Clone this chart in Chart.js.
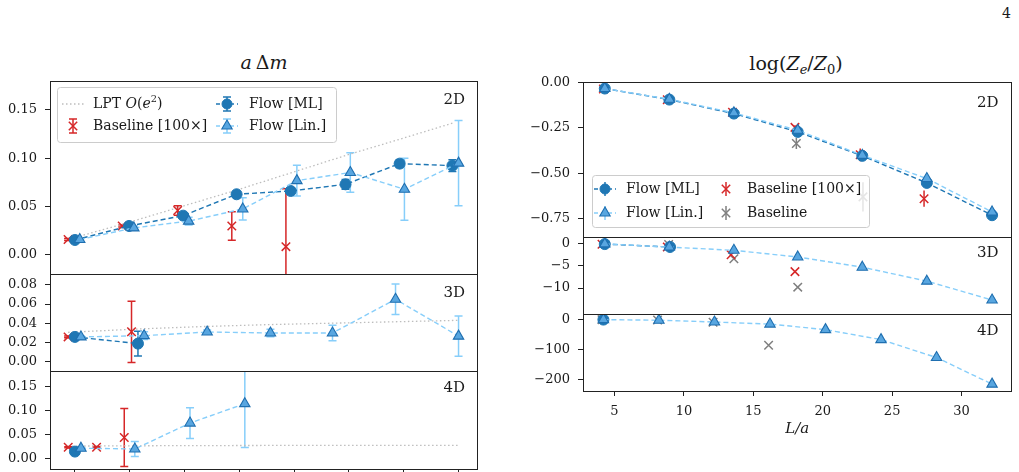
<!DOCTYPE html>
<html>
<head>
<meta charset="utf-8">
<script src="https://cdn.jsdelivr.net/npm/chart.js@4.4.0/dist/chart.umd.min.js"></script>
<style>
  body { margin: 0; width: 1019px; height: 472px; overflow: hidden; position: relative; background: #fff;
         font-family: "DejaVu Serif", serif; color: #1a1a1a; }
  canvas { position: absolute; }
  .title { position: absolute; font-size: 19px; transform: translate(-50%, -50%); white-space: nowrap; }
  .title sub { font-size: 13px; vertical-align: -4px; line-height: 0; }
</style>
</head>
<body>
<div class="title" style="left:264px; top:62px"><i>a</i>&thinsp;Δ<i>m</i></div>
<div class="title" style="left:796px; top:63px">log(<i>Z</i><sub><i>e</i></sub>/<i>Z</i><sub>0</sub>)</div>
<div style="position:absolute; left:1002px; top:5px; font-size:14px">4</div>
<canvas id="l2d"></canvas>
<canvas id="l3d"></canvas>
<canvas id="l4d"></canvas>
<canvas id="r2d"></canvas>
<canvas id="r3d"></canvas>
<canvas id="r4d"></canvas>
<script>
const lptL2dX = [3.5, 8, 12, 16, 20, 24, 28, 31.7];
const lptL2dY = [0.016, 0.034, 0.051, 0.068, 0.086, 0.104, 0.121, 0.137];
const baseL2dX = [3.5, 7.45, 11.5, 15.45, 19.4];
const baseL2dY = [0.016, 0.030, 0.046, 0.030, 0.0086];
const baseL2dErr = [0.001, 0.001, 0.005, 0.0147, 0.06];
const mlL2dX = [4.0, 7.95, 11.9, 15.8, 19.75, 23.75, 27.7, 31.55];
const mlL2dY = [0.0155, 0.030, 0.0407, 0.0628, 0.0662, 0.0731, 0.0945, 0.0924];
const mlL2dErr = [0.001, 0.001, 0.002, 0.003, 0.003, 0.005, 0.004, 0.006];
const linL2dX = [4.35, 8.3, 12.3, 16.25, 20.2, 24.1, 28.05, 32.0];
const linL2dY = [0.016, 0.028, 0.035, 0.0476, 0.0769, 0.0853, 0.068, 0.095];
const linL2dErr = [0.001, 0.002, 0.004, 0.0115, 0.016, 0.0205, 0.032, 0.044];

const lptL3dX = [3.5, 8.67, 13.3, 18, 22.7, 27.3, 32];
const lptL3dY = [0.0305, 0.034, 0.0365, 0.0385, 0.040, 0.0415, 0.043];
const baseL3dX = [3.5, 8.13];
const baseL3dY = [0.0257, 0.031];
const baseL3dErr = [0.001, 0.032];
const mlL3dX = [4.0, 8.6];
const mlL3dY = [0.0257, 0.0187];
const mlL3dErr = [0.001, 0.013];
const linL3dX = [4.44, 9.05, 13.65, 18.27, 22.8, 27.4, 32.0];
const linL3dY = [0.0257, 0.027, 0.0308, 0.0298, 0.0298, 0.065, 0.0265];
const linL3dErr = [0.001, 0.004, 0.002, 0.004, 0.008, 0.016, 0.021];

const lptL4dX = [3.5, 12, 22, 32];
const lptL4dY = [0.026, 0.027, 0.0275, 0.0275];
const baseL4dX = [3.51, 5.58, 7.6];
const baseL4dY = [0.0237, 0.0237, 0.0438];
const baseL4dErr = [0.001, 0.001, 0.06];
const mlL4dX = [4.0];
const mlL4dY = [0.0146];
const mlL4dErr = [0.002];
const linL4dX = [4.44, 8.37, 12.4, 16.4];
const linL4dY = [0.0216, 0.020, 0.0737, 0.114];
const linL4dErr = [0.002, 0.0156, 0.032, 0.091];

const leftXTicks = [4, 8, 12, 16, 20, 24, 28, 32];
const leftY2dTicks = [0, 0.05, 0.10, 0.15];
const leftY3dTicks = [0, 0.02, 0.04, 0.06, 0.08];
const leftY4dTicks = [0, 0.05, 0.10, 0.15];

// ---- right column: log(Z_e/Z_0) vs L/a ----
const xR7 = [4.3, 8.95, 13.6, 18.2, 22.85, 27.5, 32.2];
const xR8 = [4.2, 8.2, 12.2, 16.2, 20.2, 24.2, 28.2, 32.2];
const mlR2dY = [-0.033, -0.094, -0.171, -0.272, -0.404, -0.553, -0.731];
const linR2dY = [-0.033, -0.092, -0.167, -0.263, -0.401, -0.529, -0.713];
const bigR2dX = [4.2, 8.8, 13.5, 18.0, 22.7, 27.3];
const bigR2dY = [-0.036, -0.095, -0.164, -0.247, -0.398, -0.64];
const bigR2dErr = [0.005, 0.005, 0.008, 0.012, 0.035, 0.045];
const baseR2dX = [18.1, 22.9];
const baseR2dY = [-0.336, -0.63];
const baseR2dErr = [0.03, 0.08];

const mlR3dX = [4.3, 9.0];
const mlR3dY = [-0.1, -0.75];
const linR3dY = [-0.05, -0.77, -1.5, -3.0, -5.3, -8.45, -12.7];
const bigR3dX = [4.1, 8.8, 13.4, 18.0];
const bigR3dY = [-0.15, -0.75, -2.5, -6.3];
const baseR3dX = [8.9, 13.6, 18.2];
const baseR3dY = [-0.2, -3.4, -9.8];

const mlR4dX = [4.2];
const mlR4dY = [0];
const linR4dY = [0, -2, -8, -15, -33.5, -67, -127, -216];
const baseR4dX = [4.1, 8.1, 12.1, 16.1];
const baseR4dY = [0, -1, -9, -86];

const rightXTicks = [5, 10, 15, 20, 25, 30];
const rightY2dTicks = [0, -0.25, -0.5, -0.75];
const rightY3dTicks = [0, -5, -10];
const rightY4dTicks = [0, -100, -200];

// ---- styling ----
const FONT = '"DejaVu Serif", serif';
const INK = '#1a1a1a';
const C_ML = '#1f77b4';
const C_LIN = '#87cefa';
const C_LIN_FILL = '#58a6e0';
const C_RED = '#d62728';
const C_GRAY = '#7f7f7f';
const C_LPT = '#bdbdbd';

function pts(xs, ys) {
    return xs.map((x, i) => ({ x: x, y: ys[i] }));
}

function lptSeries(xs, ys) {
    return { data: pts(xs, ys), showLine: true, borderColor: C_LPT, borderWidth: 1.3,
             borderDash: [1.5, 2.5], pointRadius: 0, order: 4 };
}

function mlSeries(xs, ys, err, caps) {
    return { data: pts(xs, ys), showLine: true, borderColor: C_ML, borderWidth: 1.4, borderDash: [5, 3],
             pointStyle: 'circle', pointRadius: 5.5, pointBackgroundColor: C_ML, pointBorderColor: C_ML,
             pointBorderWidth: 1, err: err, errColor: C_ML, caps: caps, order: 1 };
}

function linSeries(xs, ys, err, caps) {
    return { data: pts(xs, ys), showLine: true, borderColor: C_LIN, borderWidth: 1.4, borderDash: [5, 3],
             pointStyle: 'triangle', pointRadius: 6, pointBackgroundColor: C_LIN_FILL, pointBorderColor: '#1f6fb0',
             pointBorderWidth: 1.1, err: err, errColor: C_LIN, caps: caps, order: 0 };
}

function crossSeries(xs, ys, err, caps, color, order) {
    return { data: pts(xs, ys), showLine: false, pointStyle: 'crossRot', pointRadius: 6,
             pointBorderColor: color, pointBackgroundColor: color, pointBorderWidth: 1.5,
             err: err, errColor: color, caps: caps, order: order };
}

// error bars drawn under the markers, clipped to the axes box
const errorBars = {
    id: 'errorBars',
    beforeDatasetsDraw(chart) {
        const { ctx, chartArea: a, scales: { x, y } } = chart;
        ctx.save();
        ctx.beginPath();
        ctx.rect(a.left, a.top, a.width, a.height);
        ctx.clip();
        ctx.lineWidth = 1.5;
        chart.data.datasets.forEach(ds => {
            if (!ds.err) return;
            ctx.strokeStyle = ds.errColor;
            ds.data.forEach((p, i) => {
                const e = ds.err[i];
                if (!e) return;
                const px = x.getPixelForValue(p.x);
                const y0 = y.getPixelForValue(p.y - e);
                const y1 = y.getPixelForValue(p.y + e);
                ctx.beginPath();
                ctx.moveTo(px, y0);
                ctx.lineTo(px, y1);
                if (ds.caps) {
                    ctx.moveTo(px - 4, y0); ctx.lineTo(px + 4, y0);
                    ctx.moveTo(px - 4, y1); ctx.lineTo(px + 4, y1);
                }
                ctx.stroke();
            });
        });
        ctx.restore();
    }
};

// box round the axes; the bottom edge sits on the next panel's top edge
const frameBox = {
    id: 'frameBox',
    afterDatasetsDraw(chart) {
        const { ctx, chartArea: a } = chart;
        ctx.save();
        ctx.strokeStyle = '#222';
        ctx.lineWidth = 1;
        ctx.strokeRect(Math.round(a.left) + 0.5, Math.round(a.top) + 0.5,
                       Math.round(a.width) - 1, Math.round(a.height));
        ctx.restore();
    }
};

function panelTag(text, dy) {
    return {
        id: 'panelTag',
        afterDraw(chart) {
            const { ctx, chartArea: a } = chart;
            ctx.save();
            ctx.font = '15px ' + FONT;
            ctx.fillStyle = INK;
            ctx.textAlign = 'right';
            ctx.textBaseline = 'middle';
            ctx.fillText(text, a.right - 13, a.top + dy);
            ctx.restore();
        }
    };
}

function drawRich(ctx, segs, x, y, size) {
    segs.forEach(s => {
        const fs = s.sup ? size * 0.7 : size;
        ctx.font = (s.it ? 'italic ' : '') + fs + 'px ' + FONT;
        ctx.fillText(s.t, x, s.sup ? y - size * 0.35 : y);
        x += ctx.measureText(s.t).width;
    });
}

function drawMarker(ctx, shape, x, y, fill, stroke) {
    ctx.setLineDash([]);
    ctx.beginPath();
    if (shape === 'circle') {
        ctx.arc(x, y, 5, 0, Math.PI * 2);
        ctx.fillStyle = fill; ctx.fill();
        ctx.strokeStyle = stroke; ctx.lineWidth = 1; ctx.stroke();
    } else if (shape === 'triangle') {
        for (let k = 0; k < 3; k++) {
            const ang = k * 2 * Math.PI / 3;
            const px = x + Math.sin(ang) * 6, py = y - Math.cos(ang) * 6;
            if (k === 0) ctx.moveTo(px, py); else ctx.lineTo(px, py);
        }
        ctx.closePath();
        ctx.fillStyle = fill; ctx.fill();
        ctx.strokeStyle = stroke; ctx.lineWidth = 1.1; ctx.stroke();
    } else {
        const d = 4.2;
        ctx.moveTo(x - d, y - d); ctx.lineTo(x + d, y + d);
        ctx.moveTo(x + d, y - d); ctx.lineTo(x - d, y + d);
        ctx.strokeStyle = stroke; ctx.lineWidth = 1.5; ctx.stroke();
    }
}

function drawHandle(ctx, kind, x, y, caps) {
    ctx.save();
    if (kind === 'lpt') {
        ctx.strokeStyle = C_LPT; ctx.lineWidth = 1.3; ctx.setLineDash([1.5, 2.5]);
        ctx.beginPath(); ctx.moveTo(x - 11, y); ctx.lineTo(x + 11, y); ctx.stroke();
        ctx.restore();
        return;
    }
    let lineC = null, errC, shape, fill, stroke;
    if (kind === 'ml') { lineC = C_ML; errC = C_ML; shape = 'circle'; fill = C_ML; stroke = C_ML; }
    if (kind === 'lin') { lineC = C_LIN; errC = C_LIN; shape = 'triangle'; fill = C_LIN_FILL; stroke = '#1f6fb0'; }
    if (kind === 'big') { errC = C_RED; shape = 'cross'; stroke = C_RED; }
    if (kind === 'base') { errC = C_GRAY; shape = 'cross'; stroke = C_GRAY; }
    if (lineC) {
        ctx.strokeStyle = lineC; ctx.lineWidth = 1.4; ctx.setLineDash([4, 3]);
        ctx.beginPath(); ctx.moveTo(x - 11, y); ctx.lineTo(x + 11, y); ctx.stroke();
    }
    ctx.setLineDash([]);
    ctx.strokeStyle = errC; ctx.lineWidth = 1.5;
    ctx.beginPath();
    ctx.moveTo(x, y - 7); ctx.lineTo(x, y + 7);
    if (caps) {
        ctx.moveTo(x - 4, y - 7); ctx.lineTo(x + 4, y - 7);
        ctx.moveTo(x - 4, y + 7); ctx.lineTo(x + 4, y + 7);
    }
    ctx.stroke();
    drawMarker(ctx, shape, x, y, fill, stroke);
    ctx.restore();
}

function boxLegend(spec) {
    return {
        id: 'boxLegend',
        afterDraw(chart) {
            if (!spec) return;
            const { ctx, chartArea: a } = chart;
            const bx = a.left + spec.box[0] + 0.5, by = a.top + spec.box[1] + 0.5;
            ctx.save();
            ctx.beginPath();
            if (ctx.roundRect) ctx.roundRect(bx, by, spec.box[2], spec.box[3], 3);
            else ctx.rect(bx, by, spec.box[2], spec.box[3]);
            ctx.fillStyle = 'rgba(255,255,255,0.8)';
            ctx.fill();
            ctx.strokeStyle = '#cccccc';
            ctx.lineWidth = 1;
            ctx.stroke();
            spec.items.forEach(it => {
                const y = a.top + it.y;
                drawHandle(ctx, it.kind, a.left + it.hx, y, spec.caps);
                ctx.fillStyle = INK;
                ctx.textAlign = 'left';
                ctx.textBaseline = 'middle';
                drawRich(ctx, it.text, a.left + it.tx, y, 14);
            });
            ctx.restore();
        }
    };
}

function fixedTicks(list) {
    return scale => { scale.ticks = list.map(v => ({ value: v })); };
}
const fmt2 = v => Number(v).toFixed(2).replace('-', '\u2212');
const fmt0 = v => String(v).replace('-', '\u2212');

// frame = [x0, y0, x1, y1] of the axes box on the page, m = [left, top, right, bottom] room around it
function makePanel(id, frame, m, cfg) {
    const c = document.getElementById(id);
    c.width = frame[2] - frame[0] + m[0] + m[2];
    c.height = frame[3] - frame[1] + m[1] + m[3];
    c.style.left = (frame[0] - m[0]) + 'px';
    c.style.top = (frame[1] - m[1]) + 'px';
    const tickFont = { family: FONT, size: 13 };
    new Chart(c, {
        type: 'scatter',
        data: { datasets: cfg.datasets },
        options: {
            responsive: false,
            animation: false,
            events: [],
            layout: { padding: { left: 0, top: m[1], right: m[2], bottom: cfg.xAxis ? 0 : m[3] } },
            plugins: { legend: { display: false }, tooltip: { enabled: false } },
            scales: {
                x: {
                    type: 'linear', min: cfg.xRange[0], max: cfg.xRange[1],
                    display: !!cfg.xAxis,
                    afterBuildTicks: fixedTicks(cfg.xTicks),
                    afterFit: s => { s.height = cfg.xAxis ? m[3] : 0; },
                    grid: { drawOnChartArea: false, drawTicks: true, tickLength: 5, color: '#222', tickColor: '#222' },
                    border: { display: false },
                    ticks: { font: tickFont, color: INK, padding: 8, autoSkip: false, maxRotation: 0,
                             callback: v => fmt0(v) },
                    title: cfg.xTitle ? { display: true, text: cfg.xTitle, color: INK,
                                          font: { family: FONT, size: 15, style: 'italic' },
                                          padding: { top: 4, bottom: 4 } } : { display: false }
                },
                y: {
                    type: 'linear', position: 'left', min: cfg.yRange[0], max: cfg.yRange[1],
                    afterBuildTicks: fixedTicks(cfg.yTicks),
                    afterFit: s => { s.width = m[0]; },
                    grid: { drawOnChartArea: false, drawTicks: true, tickLength: 5, color: '#222', tickColor: '#222' },
                    border: { display: false },
                    ticks: { font: tickFont, color: INK, padding: 8, autoSkip: false, callback: cfg.fmt }
                }
            }
        },
        plugins: [errorBars, frameBox, panelTag(cfg.tag, cfg.tagDy), boxLegend(cfg.legend)]
    });
}

const lptText = [{ t: 'LPT ' }, { t: 'O', it: true }, { t: '(' }, { t: 'e', it: true }, { t: '2', sup: true }, { t: ')' }];
const leftLegend = {
    box: [7, 6, 279, 55], caps: true,
    items: [
        { kind: 'lpt', hx: 23, tx: 43, y: 23, text: lptText },
        { kind: 'big', hx: 23, tx: 43, y: 45, text: [{ t: 'Baseline [100\u00d7]' }] },
        { kind: 'ml', hx: 177, tx: 199, y: 23, text: [{ t: 'Flow [ML]' }] },
        { kind: 'lin', hx: 177, tx: 199, y: 45, text: [{ t: 'Flow [Lin.]' }] }
    ]
};
const rightLegend = {
    box: [9, 93, 277, 52], caps: false,
    items: [
        { kind: 'ml', hx: 22, tx: 43, y: 107, text: [{ t: 'Flow [ML]' }] },
        { kind: 'lin', hx: 22, tx: 43, y: 131, text: [{ t: 'Flow [Lin.]' }] },
        { kind: 'big', hx: 143, tx: 164, y: 107, text: [{ t: 'Baseline [100\u00d7]' }] },
        { kind: 'base', hx: 143, tx: 164, y: 131, text: [{ t: 'Baseline' }] }
    ]
};

const leftXRange = [2.18, 33.42];
const rightXRange = [2.73, 33.6];

makePanel('l2d', [50, 81, 478, 274], [50, 22, 12, 22], {
    xRange: leftXRange, xTicks: leftXTicks, yRange: [-0.0197, 0.18], yTicks: leftY2dTicks, fmt: fmt2,
    tag: '2D', tagDy: 19, legend: leftLegend,
    datasets: [lptSeries(lptL2dX, lptL2dY), crossSeries(baseL2dX, baseL2dY, baseL2dErr, true, C_RED, 2),
               mlSeries(mlL2dX, mlL2dY, mlL2dErr, true), linSeries(linL2dX, linL2dY, linL2dErr, true)]
});
makePanel('l3d', [50, 274, 478, 371], [50, 22, 12, 22], {
    xRange: leftXRange, xTicks: leftXTicks, yRange: [-0.0099, 0.0914], yTicks: leftY3dTicks, fmt: fmt2,
    tag: '3D', tagDy: 19,
    datasets: [lptSeries(lptL3dX, lptL3dY), crossSeries(baseL3dX, baseL3dY, baseL3dErr, true, C_RED, 2),
               mlSeries(mlL3dX, mlL3dY, mlL3dErr, true), linSeries(linL3dX, linL3dY, linL3dErr, true)]
});
makePanel('l4d', [50, 371, 478, 469], [50, 22, 12, 40], {
    xRange: leftXRange, xTicks: leftXTicks, yRange: [-0.0215, 0.1817], yTicks: leftY4dTicks, fmt: fmt2,
    tag: '4D', tagDy: 17, xAxis: true,
    datasets: [lptSeries(lptL4dX, lptL4dY), crossSeries(baseL4dX, baseL4dY, baseL4dErr, true, C_RED, 2),
               mlSeries(mlL4dX, mlL4dY, mlL4dErr, true), linSeries(linL4dX, linL4dY, linL4dErr, true)]
});

makePanel('r2d', [583, 82, 1012, 237], [60, 22, 7, 22], {
    xRange: rightXRange, xTicks: rightXTicks, yRange: [-0.851, 0.003], yTicks: rightY2dTicks, fmt: fmt2,
    tag: '2D', tagDy: 21, legend: rightLegend,
    datasets: [crossSeries(baseR2dX, baseR2dY, baseR2dErr, false, C_GRAY, 3),
               crossSeries(bigR2dX, bigR2dY, bigR2dErr, false, C_RED, 2),
               mlSeries(xR7, mlR2dY, null, false), linSeries(xR7, linR2dY, null, false)]
});
makePanel('r3d', [583, 237, 1012, 314], [60, 22, 7, 22], {
    xRange: rightXRange, xTicks: rightXTicks, yRange: [-15.85, 1.5], yTicks: rightY3dTicks, fmt: fmt0,
    tag: '3D', tagDy: 16,
    datasets: [crossSeries(baseR3dX, baseR3dY, null, false, C_GRAY, 3),
               crossSeries(bigR3dX, bigR3dY, null, false, C_RED, 2),
               mlSeries(mlR3dX, mlR3dY, null, false), linSeries(xR7, linR3dY, null, false)]
});
makePanel('r4d', [583, 314, 1012, 391], [60, 22, 7, 51], {
    xRange: rightXRange, xTicks: rightXTicks, yRange: [-239, 18.8], yTicks: rightY4dTicks, fmt: fmt0,
    tag: '4D', tagDy: 17, xAxis: true, xTitle: 'L/a',
    datasets: [crossSeries(baseR4dX, baseR4dY, null, false, C_GRAY, 3),
               mlSeries(mlR4dX, mlR4dY, null, false), linSeries(xR8, linR4dY, null, false)]
});
</script>
</body>
</html>
